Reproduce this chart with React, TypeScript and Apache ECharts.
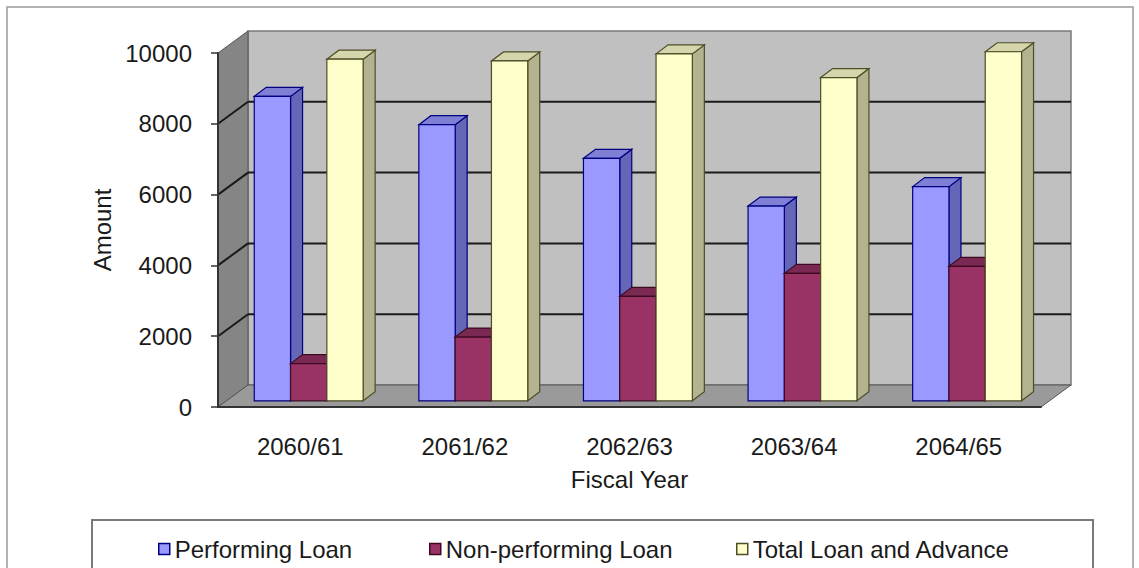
import React, { useEffect, useRef } from "react";
import * as echarts from "echarts";

const categories = ["2060/61", "2061/62", "2062/63", "2063/64", "2064/65"];
const performingLoan = [8600, 7800, 6850, 5500, 6050];
const nonPerformingLoan = [1050, 1800, 2950, 3600, 3800];
const totalLoanAdvance = [9650, 9600, 9800, 9130, 9860];
const seriesNames = ["Performing Loan", "Non-performing Loan", "Total Loan and Advance"];
const yTicks = [0, 2000, 4000, 6000, 8000, 10000];

const DEPTH_X = 30;
const DEPTH_Y = -22;
const BAR_OFF_X = 8.4;
const BAR_OFF_Y = -6.2;
const BD_X = 12;
const BD_Y = -9;
const FONT = "'Liberation Sans', Arial, sans-serif";

const palettes = [
  { front: "#9999ff", side: "#6666b8", top: "#7f7fd6", stroke: "#000080" },
  { front: "#993366", side: "#6b2347", top: "#7a2952", stroke: "#3d0a22" },
  { front: "#ffffcc", side: "#b3b38f", top: "#d6d6ad", stroke: "#4d4d26" },
];

function barRender(sIdx: number) {
  const p = palettes[sIdx];
  return (params: any, api: any) => {
    const i = api.value(0);
    const v = api.value(1);
    const top = api.coord([i, v]);
    const base = api.coord([i, 0]);
    const band = api.size([1, 0])[0];
    const bw = band * 0.2205;
    const x0 = top[0] - 1.5 * bw + sIdx * bw + BAR_OFF_X;
    const x1 = x0 + bw;
    const yT = top[1] + BAR_OFF_Y;
    const yB = base[1] + BAR_OFF_Y;
    const ls = { stroke: p.stroke, lineWidth: 1.2 };
    return {
      type: "group",
      children: [
        {
          type: "polygon",
          shape: { points: [[x1, yT], [x1 + BD_X, yT + BD_Y], [x1 + BD_X, yB + BD_Y], [x1, yB]] },
          style: { fill: p.side, ...ls },
        },
        {
          type: "polygon",
          shape: { points: [[x0, yT], [x0 + BD_X, yT + BD_Y], [x1 + BD_X, yT + BD_Y], [x1, yT]] },
          style: { fill: p.top, ...ls },
        },
        {
          type: "rect",
          shape: { x: x0, y: yT, width: bw, height: yB - yT },
          style: { fill: p.front, ...ls },
        },
      ],
    };
  };
}

function wallsRender(params: any, api: any) {
  const cs = params.coordSys;
  const x = cs.x, y = cs.y, w = cs.width, h = cs.height;
  const yb = y + h;
  const children: any[] = [
    {
      type: "rect",
      shape: { x: x + DEPTH_X, y: y + DEPTH_Y, width: w, height: h },
      style: { fill: "#c0c0c0", stroke: "#7a7a7a", lineWidth: 1.5 },
    },
    {
      type: "polygon",
      shape: { points: [[x, yb], [x + DEPTH_X, yb + DEPTH_Y], [x + DEPTH_X, y + DEPTH_Y], [x, y]] },
      style: { fill: "#858585", stroke: "#555", lineWidth: 1 },
    },
    {
      type: "polygon",
      shape: { points: [[x, yb], [x + w, yb], [x + w + DEPTH_X, yb + DEPTH_Y], [x + DEPTH_X, yb + DEPTH_Y]] },
      style: { fill: "#9a9a9a", stroke: "#555", lineWidth: 1 },
    },
  ];
  yTicks.forEach((t) => {
    if (t === 0 || t === yTicks[yTicks.length - 1]) return;
    const py = api.coord([0, t])[1];
    children.push({
      type: "line",
      shape: { x1: x + DEPTH_X, y1: py + DEPTH_Y, x2: x + w + DEPTH_X, y2: py + DEPTH_Y },
      style: { stroke: "#1a1a1a", lineWidth: 2 },
    });
    children.push({
      type: "line",
      shape: { x1: x, y1: py, x2: x + DEPTH_X, y2: py + DEPTH_Y },
      style: { stroke: "#1a1a1a", lineWidth: 2 },
    });
  });
  return { type: "group", children };
}

export default function App() {
  const ref = useRef<HTMLDivElement>(null);
  useEffect(() => {
    document.body.style.margin = "0";
    const chart = echarts.init(ref.current!, null, { renderer: "svg" });
    const seriesData = [performingLoan, nonPerformingLoan, totalLoanAdvance];
    const legendLefts = [153, 424, 731];
    chart.setOption({
      animation: false,
      backgroundColor: "#ffffff",
      textStyle: { fontFamily: FONT },
      grid: { left: 218, top: 53, width: 823, height: 354 },
      xAxis: {
        type: "category",
        data: categories,
        name: "Fiscal Year",
        nameLocation: "middle",
        nameGap: 60,
        nameTextStyle: { fontSize: 24, color: "#1a1a1a", fontFamily: FONT },
        axisLine: { lineStyle: { color: "#333", width: 2 } },
        axisTick: { length: 8, lineStyle: { color: "#333", width: 1.5 } },
        axisLabel: { fontSize: 24, color: "#1a1a1a", margin: 27, fontFamily: FONT },
        splitLine: { show: false },
        z: 10,
      },
      yAxis: {
        type: "value",
        min: 0,
        max: 10000,
        interval: 2000,
        name: "Amount",
        nameLocation: "middle",
        nameGap: 97,
        nameRotate: 90,
        nameTextStyle: { fontSize: 24, color: "#1a1a1a", fontFamily: FONT },
        axisLine: { show: true, lineStyle: { color: "#333", width: 2 } },
        axisTick: { show: true, length: 7, lineStyle: { color: "#333", width: 1.5 } },
        axisLabel: {
          fontSize: 24,
          color: "#1a1a1a",
          margin: 26,
          fontFamily: FONT,
          formatter: (v: number) => String(v),
        },
        splitLine: { show: false },
        z: 10,
      },
      legend: seriesNames.map((n, k) => ({
        data: [n],
        left: legendLefts[k],
        top: 532,
        itemWidth: 11,
        itemHeight: 11,
        icon: "rect",
        itemStyle: { borderColor: palettes[k].stroke, borderWidth: 1.5 },
        textStyle: { fontSize: 24, color: "#1a1a1a", fontFamily: FONT, padding: [0, 0, 0, 0] },
        selectedMode: false,
      })),
      graphic: [
        {
          type: "rect",
          shape: { x: 7, y: 7, width: 1126, height: 620 },
          style: { fill: "none", stroke: "#9a9a9a", lineWidth: 1.5 },
          silent: true,
          z: -10,
        },
        {
          type: "rect",
          shape: { x: 92, y: 520, width: 1001, height: 80 },
          style: { fill: "#ffffff", stroke: "#7a7a7a", lineWidth: 2 },
          silent: true,
          z: -5,
        },
      ],
      series: [
        {
          type: "custom",
          name: "walls",
          renderItem: wallsRender,
          data: [[0, 0]],
          encode: { x: 0, y: 1 },
          silent: true,
          z: 1,
        },
        ...seriesNames.map((n, k) => ({
          type: "custom",
          name: n,
          renderItem: barRender(k),
          data: categories.map((_, i) => [i, seriesData[k][i]]),
          encode: { x: 0, y: 1 },
          itemStyle: { color: palettes[k].front },
          z: 2,
        })),
      ],
    });
    return () => chart.dispose();
  }, []);
  return <div ref={ref} style={{ width: 1139, height: 568 }} />;
}
